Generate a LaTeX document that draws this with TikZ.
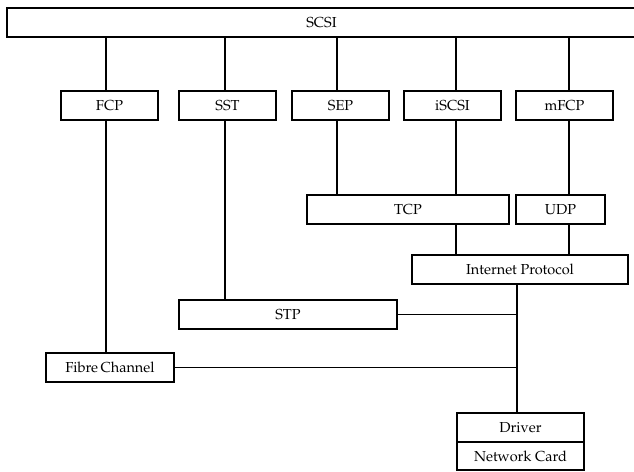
\documentclass[tikz,border=0pt]{standalone}
\usepackage[T1]{fontenc}
\usepackage{mathpazo}
\usepackage{tikz}
\usetikzlibrary{positioning}

\begin{document}
\begin{tikzpicture}[x=1pt,y=-1pt,line width=1.5pt,
  box/.style={draw,inner sep=0pt,minimum height=29pt,minimum width=#1,font=\fontsize{14.5}{17}\selectfont},
  box/.default=97pt]
      \useasboundingbox (0,0) rectangle (634,471);
      \node[box=629pt](scsi) at (321.5,22.5){SCSI};
      \node[box](fcp) at (109.5,105.5){FCP};
      \node[box](sst) at (227.5,105.5){SST};
      \node[box](sep) at (340.5,105.5){SEP};
      \node[box](iscsi) at (452.5,105.5){iSCSI};
      \node[box](mfcp) at (564.5,105.5){mFCP};
      \node[box=202pt](tcp) at (408,209.5){TCP};
      \node[box=89pt](udp) at (560.5,209.5){UDP};
      \node[box=216pt](ip) at (520,269.5){Internet Protocol};
      \node[box=218pt](stp) at (288,314.5){STP};
      \node[box=128pt](fc) at (110,367.5){Fibre\,Channel};
      \node[box=127pt](driver) at (520.5,427.5){Driver};
      \node[box=127pt,minimum height=28pt](card) at (520.5,456){Network Card};
      \coordinate (colfcp) at (106,0);
      \coordinate (colsst) at (225,0);
      \coordinate (colsep) at (337,0);
      \coordinate (coliscsi) at (456,0);
      \coordinate (colmfcp) at (569,0);
      \coordinate (colbus) at (517,0);
      \draw (scsi.south -| colfcp) -- (fcp.north -| colfcp);
      \draw (scsi.south -| colsst) -- (sst.north -| colsst);
      \draw (scsi.south -| colsep) -- (sep.north -| colsep);
      \draw (scsi.south -| coliscsi) -- (iscsi.north -| coliscsi);
      \draw (scsi.south -| colmfcp) -- (mfcp.north -| colmfcp);
      \draw (fcp.south -| colfcp) -- (fc.north -| colfcp);
      \draw (sst.south -| colsst) -- (stp.north -| colsst);
      \draw (sep.south -| colsep) -- (tcp.north -| colsep);
      \draw (iscsi.south -| coliscsi) -- (tcp.north -| coliscsi);
      \draw (mfcp.south -| colmfcp) -- (udp.north -| colmfcp);
      \draw (tcp.south -| coliscsi) -- (ip.north -| coliscsi);
      \draw (udp.south -| colmfcp) -- (ip.north -| colmfcp);
      \draw (ip.south -| colbus) -- (driver.north -| colbus);
      \draw (stp.east) -- (stp.east -| colbus);
      \draw (fc.east) -- (fc.east -| colbus);
    \end{tikzpicture}
\end{document}
